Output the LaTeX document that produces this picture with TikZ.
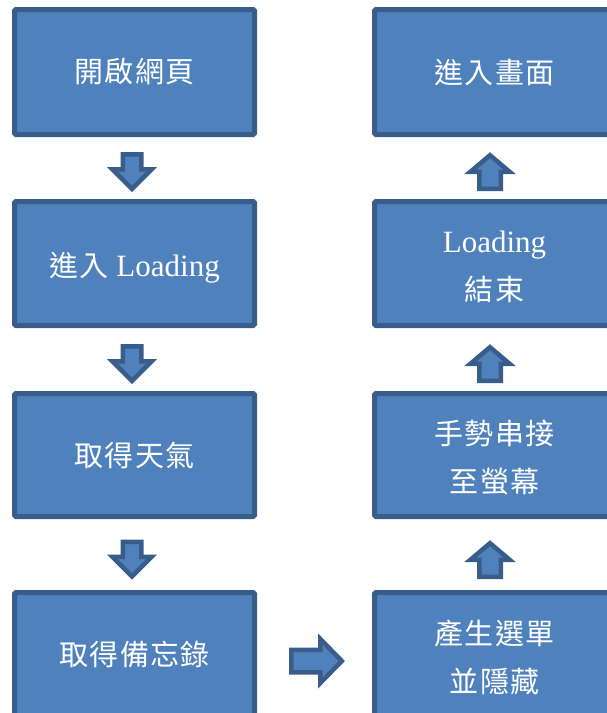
\documentclass[tikz,border=0pt]{standalone}
\usepackage{fontspec}
\setmainfont{Liberation Serif}
\newfontfamily\cjkfont{Noto Sans CJK TC}[LetterSpace=5]
\newcommand\zh[1]{{\cjkfont\fontsize{29}{48}\selectfont #1}}
\usetikzlibrary{calc}
\definecolor{boxfill}{HTML}{4F81BD}
\definecolor{boxline}{HTML}{385D8A}
\tikzset{
  stepbox/.style={draw=boxline, fill=boxfill, line width=5pt, rounded corners=1.5pt,
    minimum width=240pt, minimum height=125pt, text=white, align=center,
    font=\fontsize{31}{48}\selectfont, inner sep=0pt},
  blockarrow/.style={draw=boxline, fill=boxfill, line width=4.5pt, line join=miter},
  pics/arrowA/.style={code={\path[blockarrow] (-17.75,-9.25) -- (-2.75,-9.25) -- (-2.75,-19.57) -- (16.82,0) -- (-2.75,19.57) -- (-2.75,9.25) -- (-17.75,9.25) -- cycle;}},
  pics/arrowB/.style={code={\path[blockarrow] (-17.25,-10.75) -- (-0.25,-10.75) -- (-0.25,-19.57) -- (16.32,0) -- (-0.25,19.57) -- (-0.25,10.75) -- (-17.25,10.75) -- cycle;}},
  pics/arrowC/.style={code={\path[blockarrow] (-25.75,-11.25) -- (3.25,-11.25) -- (3.25,-22.07) -- (24.82,0) -- (3.25,22.07) -- (3.25,11.25) -- (-25.75,11.25) -- cycle;}},
}
\begin{document}
\begin{tikzpicture}[x=1pt,y=-1pt]
\useasboundingbox (0,0) rectangle (607,713);
% left column
\node[stepbox] (b1) at (134.5,72) {\zh{開啟網頁}};
\node[stepbox, minimum height=124pt] (b2) at (134.5,263.5) {\rule{0pt}{33pt}\zh{進入} Loading};
\node[stepbox, minimum height=123pt] (b3) at (134.5,455) {\zh{取得天氣}};
\node[stepbox] (b4) at (134.5,655) {\zh{取得備忘錄}};
% right column
\node[stepbox] (r1) at (494.5,72) {\zh{進入畫面}};
\node[stepbox, minimum height=124pt] (r2) at (494.5,263.5) {\rule{0pt}{28pt}Loading\\\zh{結束}};
\node[stepbox, minimum height=123pt] (r3) at (494.5,455) {\rule{0pt}{29pt}\zh{手勢串接}\\\zh{至螢幕}};
\node[stepbox] (r4) at (494.5,655) {\rule{0pt}{29pt}\zh{產生選單}\\\zh{並隱藏}};
% block arrows
\pic[rotate=-90] at ($(b1.south)!0.5!(b2.north)+(-2.5,4)$) {arrowA};
\pic[rotate=-90] at ($(b2.south)!0.5!(b3.north)+(-2.5,4.5)$) {arrowA};
\pic[rotate=-90] at ($(b3.south)!0.5!(b4.north)+(-2.5,5)$) {arrowA};
\pic[rotate=90] at ($(r1.south)!0.5!(r2.north)+(-4.5,3.5)$) {arrowB};
\pic[rotate=90] at ($(r2.south)!0.5!(r3.north)+(-4.5,4)$) {arrowB};
\pic[rotate=90] at ($(r3.south)!0.5!(r4.north)+(-4.5,5)$) {arrowB};
\pic at ($(b4.east)!0.5!(r4.west)+(2.5,6)$) {arrowC};
\end{tikzpicture}
\end{document}
